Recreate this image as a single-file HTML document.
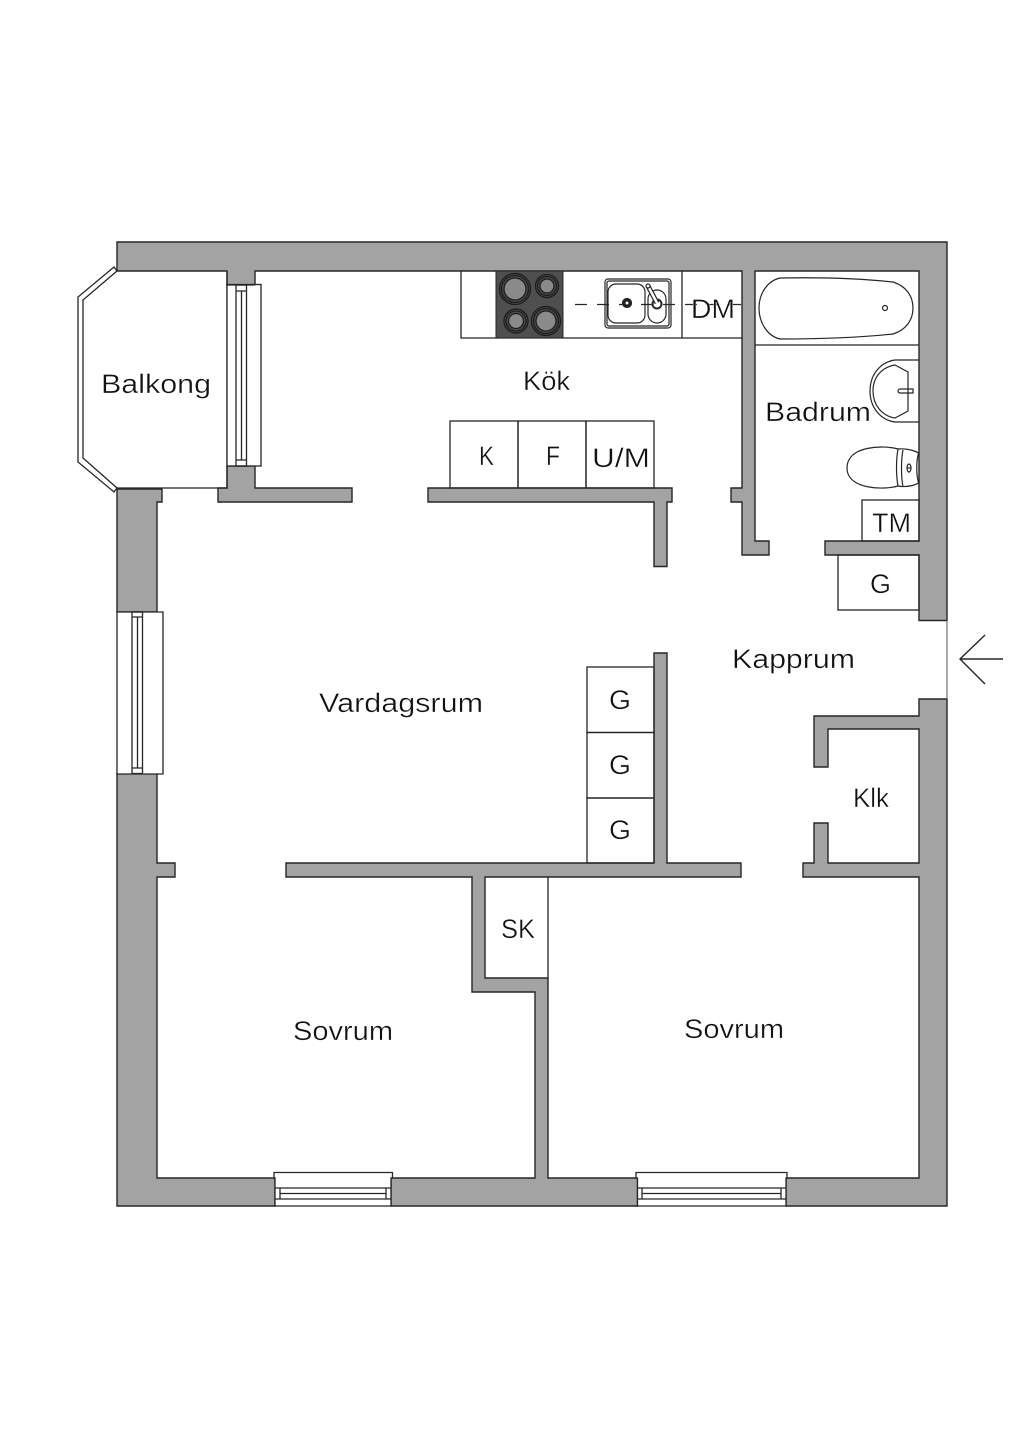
<!DOCTYPE html>
<html>
<head>
<meta charset="utf-8">
<style>
html,body{margin:0;padding:0;background:#fff}
svg{display:block}
text{font-family:"Liberation Sans",sans-serif;font-size:27px;fill:#111;stroke:#fff;stroke-width:.35px;paint-order:normal}
</style>
</head>
<body>
<svg width="1024" height="1448" viewBox="0 0 1024 1448" xmlns="http://www.w3.org/2000/svg">
<rect width="1024" height="1448" fill="#fff"/>

<!-- walls -->
<g fill="#a3a3a3" stroke="#262626" stroke-width="1.4" stroke-linejoin="miter">
<path d="M117,242H947V620.5H919V555H825V541H919V271H755V541H769V555H742V502H731V488H742V271H255V285H227V271H117Z"/>
<path d="M919,699H947V1206H786V1178H919V877H803V863H814V823H828V863H919V729H828V767H814V716H919Z"/>
<path d="M391,1206H637.5V1178H548V978H485V877H741V863H667V653H654V863H286V877H472V992H535V1178H391Z"/>
<path d="M117,773H157V863H175V877H157V1178H275V1206H117Z"/>
<path d="M117,489H162V502H157V612H117Z"/>
<path d="M227,466V488H218V502H352V488H255V466Z"/>
<path d="M428,488H672V502H667V566.5H654V502H428Z"/>
</g>

<g fill="none" stroke="#262626" stroke-width="1.3">
<!-- entrance line -->
<path d="M947,620V699" stroke="#555" stroke-width="1"/>
<!-- balcony -->
<path d="M227,271V488H117"/>
<path d="M114,267L78,297V462L114,492L117,488L83,458V300L117,271Z" fill="#fff"/>
<!-- balcony door -->
<rect x="227" y="284.500" width="34" height="181.500" fill="#fff"/>
<path d="M227,285H255"/>
<rect x="236" y="285" width="10.500" height="181"/>
<path d="M241.500,291V460M236,291H246.500M236,460H246.500"/>
<!-- left window -->
<path d="M117,612H163V774H117Z" fill="#fff"/>
<rect x="132" y="612" width="10.500" height="161.500"/>
<path d="M137.500,617V768M132,617H142.500M132,768H142.500"/>
<!-- bottom windows -->
<path d="M275,1206V1178H274V1172.500H392.500V1178H391V1206Z" fill="#fff"/>
<path d="M275,1188H391M275,1199H391M280,1188V1199M386,1188V1199M280,1193.500H386"/>
<path d="M637.500,1206V1178H636V1172.500H787V1178H786V1206Z" fill="#fff"/>
<path d="M637.500,1188H786M637.500,1199H786M642,1188V1199M781,1188V1199M642,1193.500H781"/>
<!-- cabinets -->
<rect x="450" y="421" width="68" height="67"/>
<rect x="518" y="421" width="68" height="67"/>
<rect x="586" y="421" width="68" height="67"/>
<rect x="587" y="667" width="67" height="65.500"/>
<rect x="587" y="732.500" width="67" height="65.500"/>
<rect x="587" y="798" width="67" height="65"/>
<path d="M548,877V978"/>
<rect x="862" y="500" width="57" height="41"/>
<rect x="838" y="555" width="81" height="55"/>
<!-- kitchen counter -->
<path d="M461,271V338H742M682,271V338"/>
</g>

<!-- hob -->
<rect x="496" y="271" width="67" height="67" fill="#4f4f4f" stroke="#262626" stroke-width="1"/>
<g stroke="#1c1c1c" fill="none" stroke-width="1.300">
<circle cx="515" cy="289" r="15.500"/><circle cx="515" cy="289" r="13.500"/><circle cx="515" cy="289" r="11" fill="#8a8a8a"/>
<circle cx="547" cy="286" r="11.500"/><circle cx="547" cy="286" r="9.500"/><circle cx="547" cy="286" r="7" fill="#8a8a8a"/>
<circle cx="516" cy="321" r="12"/><circle cx="516" cy="321" r="10"/><circle cx="516" cy="321" r="7.500" fill="#8a8a8a"/>
<circle cx="546" cy="321" r="14.500"/><circle cx="546" cy="321" r="12.500"/><circle cx="546" cy="321" r="10" fill="#8a8a8a"/>
</g>

<!-- sink -->
<g fill="none" stroke="#262626" stroke-width="1.200">
<rect x="605" y="279" width="66" height="49" rx="3" fill="#fff"/>
<rect x="607" y="281" width="62" height="45" rx="2"/>
<rect x="608" y="284" width="37" height="39" rx="8"/>
<rect x="648" y="290" width="18" height="33" rx="9"/>
<path d="M575,304.500H742" stroke-dasharray="12,10"/>
<circle cx="627" cy="303" r="4.500" fill="#222"/>
<circle cx="627" cy="303" r="1.500" fill="#fff" stroke="none"/>
<circle cx="657" cy="304" r="4.500" fill="#fff" stroke-width="2"/>
<path d="M648,286L657,303" stroke="#262626" stroke-width="5"/>
<path d="M648,286L657,303" stroke="#fff" stroke-width="2.500"/>
<circle cx="648" cy="286" r="2" fill="#fff"/>
</g>

<!-- bathroom -->
<g fill="none" stroke="#262626" stroke-width="1.200">
<path d="M755,345H919"/>
<path d="M780,278C830,277 865,279 893,282C906,286 913,296 913,308C913,320 906,330 893,334C865,337 830,339 780,339C767,336 759,322 759,308C759,294 767,281 780,278Z"/>
<circle cx="885" cy="308" r="2.500"/>
<path d="M919,360H895C880,362 870,375 870,391C870,407 880,420 895,422H919"/>
<path d="M895,365L908,372V411L895,418C882,416 873,405 873,391C873,377 882,367 895,365Z"/>
<path d="M900,389H913V393H900A2,2 0 0 1 900,389Z"/>
<path d="M898,449C885,445 847,445 847,468C847,490 885,490 898,486C896,475 896,460 898,449Z"/>
<path d="M898,449C908,448 919,452 919,454M898,486C908,488 919,484 919,482M903,450C901,460 901,476 903,487"/>
<path d="M919,452C916,460 916,476 919,484"/>
<ellipse cx="909" cy="468" rx="2" ry="4"/>
<path d="M907,468H911"/>
</g>

<!-- arrow -->
<path d="M1003,659H960M985,635L960,659L985,684" fill="none" stroke="#262626" stroke-width="1.400"/>

<!-- labels -->
<text x="101" y="393" textLength="110" lengthAdjust="spacingAndGlyphs">Balkong</text>
<text x="523" y="390" textLength="47" lengthAdjust="spacingAndGlyphs">Kök</text>
<text x="691" y="318" textLength="44" lengthAdjust="spacingAndGlyphs">DM</text>
<text x="765" y="421" textLength="106" lengthAdjust="spacingAndGlyphs">Badrum</text>
<text x="479" y="465" textLength="15" lengthAdjust="spacingAndGlyphs">K</text>
<text x="546" y="465" textLength="14" lengthAdjust="spacingAndGlyphs">F</text>
<text x="592" y="467" textLength="58" lengthAdjust="spacingAndGlyphs">U/M</text>
<text x="872" y="532" textLength="39" lengthAdjust="spacingAndGlyphs">TM</text>
<text x="870" y="593" textLength="21" lengthAdjust="spacingAndGlyphs">G</text>
<text x="732" y="668" textLength="123" lengthAdjust="spacingAndGlyphs">Kapprum</text>
<text x="319" y="712" textLength="164" lengthAdjust="spacingAndGlyphs">Vardagsrum</text>
<text x="609" y="709" textLength="22" lengthAdjust="spacingAndGlyphs">G</text>
<text x="609" y="774" textLength="22" lengthAdjust="spacingAndGlyphs">G</text>
<text x="609" y="839" textLength="22" lengthAdjust="spacingAndGlyphs">G</text>
<text x="853" y="807" textLength="36" lengthAdjust="spacingAndGlyphs">Klk</text>
<text x="501" y="938" textLength="34" lengthAdjust="spacingAndGlyphs">SK</text>
<text x="293" y="1040" textLength="100" lengthAdjust="spacingAndGlyphs">Sovrum</text>
<text x="684" y="1038" textLength="100" lengthAdjust="spacingAndGlyphs">Sovrum</text>
</svg>
</body>
</html>
